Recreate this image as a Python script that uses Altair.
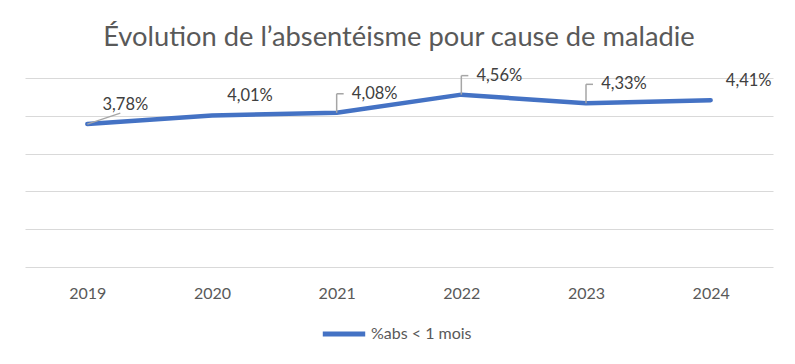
import altair as alt
import pandas as pd

years = ["2019", "2020", "2021", "2022", "2023", "2024"]
values = [3.78, 4.01, 4.08, 4.56, 4.33, 4.41]
series_name = "%abs < 1 mois"
bracket_years = ["2021", "2022", "2023"]
diagonal_years = ["2019"]
title_text = "Évolution de l’absentéisme pour cause de maladie"

labels = [f"{v:.2f}".replace(".", ",") + "%" for v in values]
df = pd.DataFrame({"year": years, "value": values, "label": labels,
                   "series": [series_name] * len(years)})

FONT = "Lato"
TXT = "#595959"
BLUE = "#4472C4"
LEAD = "#A6A6A6"

base = alt.Chart(df).encode(
    x=alt.X("year:N", scale=alt.Scale(type="point", padding=0.5),
            axis=alt.Axis(title=None, domain=False, ticks=False, grid=False,
                          labelPadding=18, labelFontSize=16, labelFont=FONT,
                          labelColor=TXT, labelAngle=0)),
    y=alt.Y("value:Q", scale=alt.Scale(domain=[0, 5], nice=False, zero=True),
            axis=alt.Axis(title=None, labels=False, ticks=False, domain=False,
                          grid=True, gridColor="#D9D9D9", gridWidth=1.2,
                          values=[0, 1, 2, 3, 4, 5])),
)

line = base.mark_line(strokeWidth=4.5, strokeCap="round", strokeJoin="round").encode(
    color=alt.Color("series:N",
                    scale=alt.Scale(domain=[series_name], range=[BLUE]),
                    legend=alt.Legend(title=None, orient="none", legendX=295, legendY=232,
                                      direction="horizontal", symbolType="stroke",
                                      symbolSize=1800, symbolStrokeWidth=5,
                                      labelFontSize=16, labelFont=FONT, labelColor=TXT,
                                      labelOffset=3))
)

bracket_v = base.transform_filter(
    alt.FieldOneOfPredicate(field="year", oneOf=bracket_years)
).mark_rule(color=LEAD, strokeWidth=1.5, y2Offset=-19).encode(y2="value:Q")

bracket_h = base.transform_filter(
    alt.FieldOneOfPredicate(field="year", oneOf=bracket_years)
).mark_rule(color=LEAD, strokeWidth=1.5, yOffset=-19, x2Offset=7).encode(x2="year:N")

diagonal = base.transform_filter(
    alt.FieldOneOfPredicate(field="year", oneOf=diagonal_years)
).mark_rule(color=LEAD, strokeWidth=1.5, x2Offset=33, y2Offset=-11).encode(
    x2="year:N", y2="value:Q")

text = base.mark_text(dx=38, dy=-19, fontSize=16.5, font=FONT, color="#404040").encode(
    text="label:N")

chart = alt.layer(line, bracket_v, bracket_h, diagonal, text).properties(
    width=748, height=189,
    title=alt.TitleParams(title_text, fontSize=27.3, font=FONT, color=TXT,
                          fontWeight="normal", anchor="middle", offset=16, frame="group"),
    padding={"left": 17, "top": 70, "right": 6, "bottom": 86},
    autosize="none",
).configure_view(stroke=None)

chart.save("out.html", embed_options={"renderer": "svg", "actions": False})
